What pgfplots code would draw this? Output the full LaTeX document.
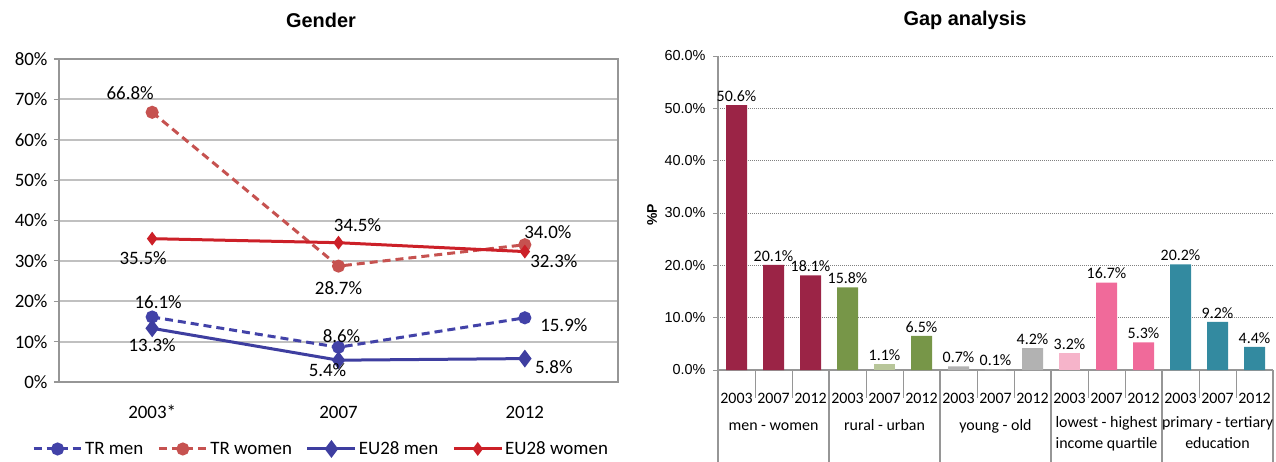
\documentclass[border=0pt]{standalone}
\usepackage{fontspec}
\setmainfont{Carlito}
\newfontfamily\arial{Liberation Sans}
\usepackage{pgfplots}
\pgfplotsset{compat=1.18}
\usepackage{pgfplotstable}

\definecolor{trmen}{RGB}{66,66,168}
\definecolor{trwomen}{RGB}{198,82,80}
\definecolor{eumen}{RGB}{62,62,160}
\definecolor{euwomen}{RGB}{204,32,40}
\definecolor{gridg}{RGB}{192,192,192}
\definecolor{frameg}{RGB}{150,150,150}
\definecolor{crimson}{RGB}{155,36,70}
\definecolor{green1}{RGB}{119,150,72}
\definecolor{green2}{RGB}{184,198,154}
\definecolor{gray1}{RGB}{178,178,178}
\definecolor{pink1}{RGB}{246,180,202}
\definecolor{pink2}{RGB}{240,106,154}
\definecolor{teal1}{RGB}{51,138,160}

% x  value  label dx  label dy (bp)
\pgfplotstableread{
x y dx dy
0 16.1 6 15
1 8.6 3 11
2 15.9 39 -7
}\trmen
\pgfplotstableread{
x y dx dy
0 66.8 -22 19
1 28.7 0 -22
2 34.0 23 13
}\trwomen
\pgfplotstableread{
x y dx dy
0 13.3 0 -17
1 5.4 -11 -10
2 5.8 29 -9
}\eumen
\pgfplotstableread{
x y dx dy
0 35.5 -9 -19
1 34.5 19 18
2 32.3 29 -10
}\euwomen

\pgfplotsset{
  lbl/.style={
    point meta=y,
    visualization depends on={\thisrow{dx} \as \dx},
    visualization depends on={\thisrow{dy} \as \dy},
    nodes near coords={\pgfmathprintnumber[fixed,precision=1,fixed zerofill]{\pgfplotspointmeta}\%},
    nodes near coords style={anchor=center, xshift=\dx bp, yshift=\dy bp, text=black,
      font=\fontsize{19}{21}\selectfont, inner sep=0pt},
  },
}

\begin{document}
\begin{tikzpicture}
\path[use as bounding box] (0,0) rectangle (1276bp,462bp);

% ---------------- Left chart ----------------
\begin{axis}[
  at={(59bp,80bp)}, anchor=south west,
  width=559bp, height=323bp, scale only axis,
  xmin=-0.5, xmax=2.5, ymin=0, ymax=80,
  xtick={0,1,2}, xticklabels={2003*,2007,2012},
  xtick pos=bottom, ytick pos=left,
  major x tick style={draw=none},
  extra x ticks={-0.5,0.5,1.5,2.5}, extra x tick labels={},
  extra x tick style={major tick style={draw=frameg, line width=1.2bp}, major tick length=6bp, xmajorgrids=false},
  ytick={0,10,...,80},
  yticklabel={\pgfmathprintnumber{\tick}\%},
  /pgf/number format/assume math mode=true,
  tick align=outside,
  major tick length=5bp,
  major y tick style={draw=frameg, line width=1.2bp},
  ymajorgrids, grid style={gridg, line width=2bp},
  axis line style={frameg, line width=1.5bp},
  tick label style={font=\fontsize{19}{21}\selectfont},
  yticklabel style={xshift=-3bp},
  xticklabel style={anchor=base, inner sep=0pt, yshift=-31bp},
  clip=false,
  legend columns=4,
  legend style={at={(axis description cs:0.4687,-0.2074)}, anchor=center, draw=none, fill=none,
    font=\fontsize{19}{21}\selectfont, inner sep=0pt,
    /tikz/every even column/.append style={column sep=12bp}},
  legend cell align=left,
  legend image code/.code={\draw[mark repeat=2,mark phase=2,#1] plot coordinates {(0bp,0bp) (24bp,0bp) (48bp,0bp)};},
]
\addplot[trmen, line width=3bp, dash pattern=on 8bp off 5bp, mark=*, mark size=5bp, mark options={solid}, lbl] table[x=x,y=y] {\trmen};
\addlegendentry{TR men}
\addplot[trwomen, line width=3bp, dash pattern=on 8bp off 5bp, mark=*, mark size=5bp, mark options={solid}, lbl] table[x=x,y=y] {\trwomen};
\addlegendentry{TR women}
\addplot[eumen, line width=3bp, mark=diamond*, mark size=6.5bp, lbl] table[x=x,y=y] {\eumen};
\addlegendentry{EU28 men}
\addplot[euwomen, line width=3bp, mark=diamond*, mark size=4.5bp, lbl] table[x=x,y=y] {\euwomen};
\addlegendentry{EU28 women}
\end{axis}
\node[font=\arial\bfseries\fontsize{20}{22}\selectfont] at (321bp,442bp) {Gender};

% ---------------- Right chart ----------------
\begin{axis}[
  at={(718bp,92bp)}, anchor=south west,
  width=555bp, height=314bp, scale only axis,
  xmin=-0.5, xmax=14.5, ymin=0, ymax=60,
  axis x line*=bottom, axis y line*=left,
  axis line style={-, frameg, line width=1.2bp},
  ybar, bar width=21bp,
  xtick={0,...,14},
  xticklabels={2003,2007,2012,2003,2007,2012,2003,2007,2012,2003,2007,2012,2003,2007,2012},
  major x tick style={draw=none},
  xticklabel style={anchor=base, inner sep=0pt, yshift=-28bp, font=\fontsize{16}{18}\selectfont},
  ytick={0,10,...,60},
  yticklabel={\pgfmathprintnumber[fixed,fixed zerofill,precision=1]{\tick}\%},
  /pgf/number format/assume math mode=true,
  yticklabel style={font=\arial\fontsize{14.5}{16}\selectfont, xshift=-4bp},
  tick align=outside, major tick length=5bp,
  major y tick style={draw=frameg, line width=1bp},
  ymajorgrids, grid style={gray, line width=1bp, dash pattern=on 1bp off 1bp},
  nodes near coords={\pgfmathprintnumber[fixed,precision=1,fixed zerofill]{\pgfplotspointmeta}\%},
  every node near coord/.append style={text=black, font=\fontsize{16}{18}\selectfont},
  point meta=y,
  clip=false,
]
\addplot[draw=none, fill=crimson, bar shift=0pt] coordinates {(0,50.6) (1,20.1) (2,18.1)};
\addplot[draw=none, fill=green1, bar shift=0pt] coordinates {(3,15.8) (5,6.5)};
\addplot[draw=none, fill=green2, bar shift=0pt] coordinates {(4,1.1)};
\addplot[draw=none, fill=gray1, bar shift=0pt] coordinates {(6,0.7) (7,0.1) (8,4.2)};
\addplot[draw=none, fill=pink1, bar shift=0pt] coordinates {(9,3.2)};
\addplot[draw=none, fill=pink2, bar shift=0pt] coordinates {(10,16.7) (11,5.3)};
\addplot[draw=none, fill=teal1, bar shift=0pt] coordinates {(12,20.2) (13,9.2) (14,4.4)};

% separators
\pgfplotsinvokeforeach{0.5,1.5,3.5,4.5,6.5,7.5,9.5,10.5,12.5,13.5}{
  \draw[frameg, line width=1bp] (axis cs:#1,0) -- ++(0pt,-28bp);
}
\pgfplotsinvokeforeach{-0.5,2.5,5.5,8.5,11.5,14.5}{
  \draw[frameg, line width=1.2bp] (axis cs:#1,0) -- ++(0pt,-92bp);
}
\begin{scope}[every node/.style={font=\fontsize{16}{21}\selectfont, anchor=base, inner sep=0pt, align=center}]
\node at ([yshift=-60bp]axis cs:1,0) {men - women};
\node at ([yshift=-60bp]axis cs:4,0) {rural - urban};
\node at ([yshift=-60bp]axis cs:7,0) {young - old};
\node[anchor=north] at ([yshift=-46bp]axis cs:10,0) {lowest - highest\\income quartile};
\node[anchor=north] at ([yshift=-46bp]axis cs:13,0) {primary - tertiary\\education};
\end{scope}
\end{axis}
\node[font=\arial\bfseries\fontsize{20}{22}\selectfont] at (965bp,442bp) {Gap analysis};
\node[rotate=90, font=\arial\bfseries\fontsize{14}{16}\selectfont] at (652bp,247bp) {\%P};
\end{tikzpicture}
\end{document}
